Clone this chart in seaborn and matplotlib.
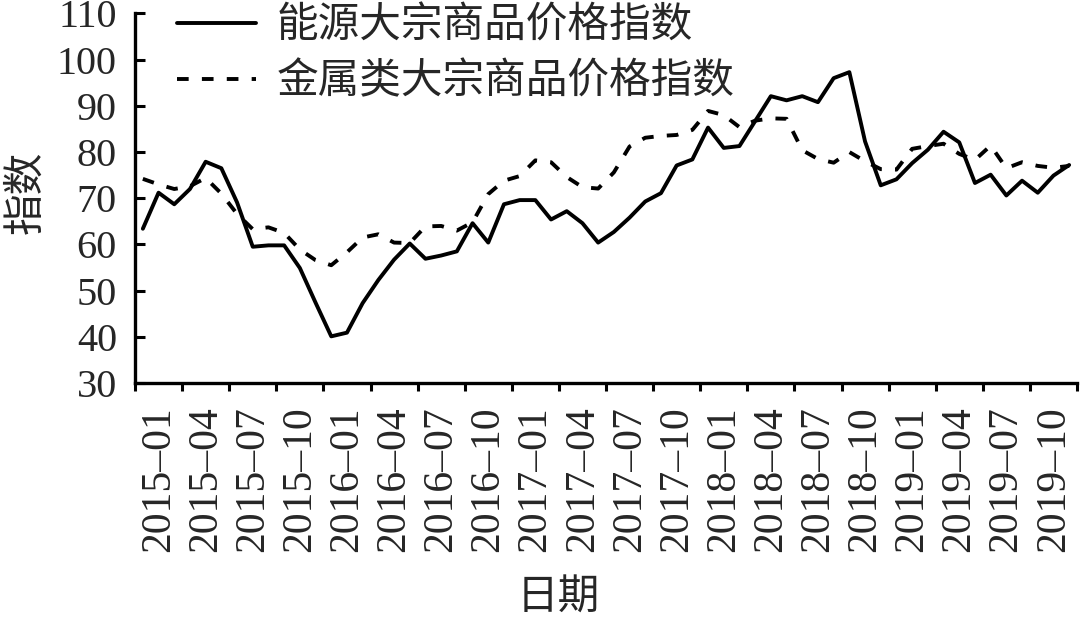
import numpy as np
import pandas as pd
import matplotlib
matplotlib.use("Agg")
import matplotlib.pyplot as plt
import seaborn as sns

# 月度数据 2015-01 ~ 2019-12
energy = [63.4, 71.2, 68.7, 72.0, 77.9, 76.5, 69.1, 59.5, 59.8, 59.8,
          54.9, 47.4, 40.1, 40.9, 47.3, 52.3, 56.7, 60.2, 56.9, 57.6,
          58.5, 64.6, 60.4, 68.7, 69.6, 69.6, 65.4, 67.2, 64.6, 60.4,
          62.7, 65.8, 69.3, 71.1, 77.1, 78.4, 85.3, 80.9, 81.3, 86.7,
          92.1, 91.2, 92.1, 90.8, 96.0, 97.3, 82.3, 72.8, 74.1, 77.6,
          80.5, 84.4, 82.1, 73.3, 75.1, 70.6, 73.8, 71.2, 74.9, 77.2]

metal = [74.2, 73.0, 72.0, 72.6, 74.4, 71.0, 66.6, 63.3, 63.7, 62.5,
         58.9, 56.6, 55.5, 58.3, 61.5, 62.2, 60.4, 60.3, 63.9, 64.0,
         63.0, 64.8, 70.9, 73.8, 74.8, 78.2, 77.8, 74.6, 72.4, 72.1,
         75.6, 81.2, 83.1, 83.5, 83.7, 84.8, 88.9, 88.0, 85.4, 86.8,
         87.3, 87.2, 80.4, 78.5, 77.7, 80.0, 78.0, 76.3, 76.2, 80.7,
         81.3, 81.8, 79.6, 78.3, 81.4, 76.5, 77.8, 77.0, 76.6, 77.0]

tick_labels = ["2015–01", "2015–04", "2015–07", "2015–10",
               "2016–01", "2016–04", "2016–07", "2016–10",
               "2017–01", "2017–04", "2017–07", "2017–10",
               "2018–01", "2018–04", "2018–07", "2018–10",
               "2019–01", "2019–04", "2019–07", "2019–10"]

name_energy = "能源大宗商品价格指数"
name_metal = "金属类大宗商品价格指数"

month_idx = np.arange(len(energy))
df = pd.DataFrame({"月": month_idx, "能源": energy, "金属": metal})

sns.set_theme(style="white")
plt.rcParams['font.family'] = ['Liberation Serif', 'Noto Sans CJK SC', 'DejaVu Sans']
plt.rcParams['axes.unicode_minus'] = False

fig = plt.figure(figsize=(10.8, 6.21), dpi=100)
ax = fig.add_axes([135 / 1080, 1 - 383 / 621, (1077 - 135) / 1080, (383 - 13.5) / 621])

lw = 2.8
sns.lineplot(data=df, x="月", y="能源", ax=ax, color="black", linewidth=lw,
             label=name_energy)
sns.lineplot(data=df, x="月", y="金属", ax=ax, color="black", linewidth=lw,
             linestyle=(0, (3.0, 3.4)), label=name_metal)

ax.set_xlim(-0.5, len(energy) - 0.5)
ax.set_ylim(30, 110)
ax.set_yticks(np.arange(30, 111, 10))

# 刻度线位于类别之间，标签居中
ax.set_xticks(np.arange(-0.5, len(energy), 3), minor=True)
ax.set_xticks(np.arange(1, len(energy), 3))
ax.set_xticklabels(tick_labels, rotation=90, fontsize=30)
ax.tick_params(axis="x", which="major", length=0, pad=17)
ax.tick_params(axis="x", which="minor", direction="out", length=6, width=2.2,
               color="black", bottom=True)
ax.tick_params(axis="y", direction="in", length=7, width=2.2, color="black",
               labelsize=29, pad=13, left=True)

for s in ["top", "right"]:
    ax.spines[s].set_visible(False)
for s in ["left", "bottom"]:
    ax.spines[s].set_color("black")
    ax.spines[s].set_linewidth(2.4)

ax.set_xlabel("日期", fontsize=30, family=['Noto Sans CJK SC'])
ax.xaxis.set_label_coords((558 - 135) / 942, (383 - 578) / 369.5)
ax.set_ylabel("指数", fontsize=30, family=['Noto Sans CJK SC'])
ax.yaxis.set_label_coords((46 - 135) / 942, (383 - 192) / 369.5)

leg = ax.legend(loc="upper left", bbox_to_anchor=(177 / 1080, 1 - 6 / 621),
                bbox_transform=fig.transFigure, frameon=False,
                prop={'family': 'Noto Sans CJK SC', 'size': 30},
                handlelength=1.9, handletextpad=0.5, borderpad=0,
                borderaxespad=0, labelspacing=0.34)

fig.savefig("out.png", dpi=100, facecolor="white")
